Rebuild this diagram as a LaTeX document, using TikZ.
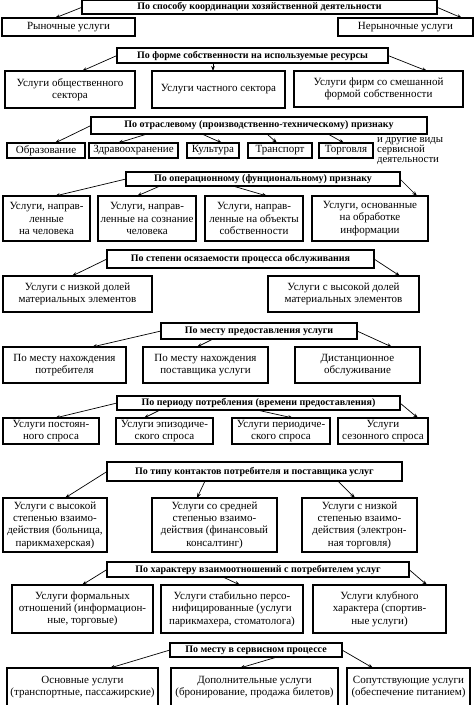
\documentclass[tikz,border=0pt]{standalone}
\usepackage{fontspec}
\setmainfont{Liberation Serif}
\usetikzlibrary{arrows.meta}
\tikzset{
  box/.style={draw, line width=1.1pt, align=center, inner sep=0pt, outer sep=0pt,
    font=\fontsize{11}{12.3}\selectfont},
  hdr/.style={box, font=\bfseries\fontsize{10}{11}\selectfont},
  note/.style={align=left, inner sep=0pt, font=\fontsize{10.8}{10}\selectfont},
  arr/.style={-{Stealth[length=5pt,width=3.6pt]}, line width=0.7pt}
}
\newcommand\placebox[7]{\node[#1, minimum width={(#5-#3)*1pt}, minimum height={(#6-#4)*1pt}, anchor=north west] (#2) at (#3,#4) {#7};}
\begin{document}
\begin{tikzpicture}[x=1pt,y=-1pt]
\useasboundingbox (0,0) rectangle (474,705);
\fill[white] (0,0) rectangle (474,705);
% Row 1
\placebox{hdr}{h1}{82}{0.5}{437}{14}{По способу координации хозяйственной деятельности}
\placebox{box}{r1a}{2}{18}{135}{36}{Рыночные услуги}
\placebox{box}{r1b}{338}{18}{473}{36}{Нерыночные услуги}
\draw[arr] (h1.west) -- (r1a.north -| 55,0);
\draw[arr] (h1.east) -- (r1b.north -| 462,0);
% Row 2
\placebox{hdr}{h2}{117}{48}{388}{63}{По форме собственности на используемые ресурсы}
\placebox{box}{b2a}{5}{71}{135}{108}{Услуги общественного\\сектора}
\placebox{box}{b2b}{152}{71}{285}{108}{Услуги частного сектора}
\placebox{box}{b2c}{294}{71}{463}{107}{Услуги фирм со смешанной\\формой собственности}
\draw[arr] (h2.west) -- (b2a.north -| 82,0);
\draw[arr] (h2.south -| 213,0) -- (b2b.north -| 213,0);
\draw[arr] (h2.east) -- (b2c.north -| 427,0);
% Row 3
\placebox{hdr}{h3}{91}{117}{427}{134}{По отраслевому (производственно-техническому) признаку}
\placebox{box}{b3a}{7}{143}{85}{158}{Образование}
\placebox{box}{b3b}{89}{143}{178}{158}{Здравоохранение}
\placebox{box}{b3c}{187}{143}{239}{158}{Культура}
\placebox{box}{b3d}{248}{143}{312}{158}{Транспорт}
\placebox{box}{b3e}{319}{143}{373}{158}{Торговля}
\node[note, anchor=north west] (oth) at (377,137) {и другие виды\\сервисной\\деятельности};
\draw[arr] (h3.west) -- (b3a.north -| 55,0);
\draw[arr] (h3.south -| 147,0) -- (b3b.north -| 118,0);
\draw[arr] (h3.south -| 202,0) -- (b3c.north -| 222,0);
\draw[arr] (h3.south -| 267,0) -- (b3d.north -| 277,0);
\draw[arr] (h3.south -| 328,0) -- (b3e.north -| 344,0);
% Row 4
\placebox{hdr}{h4}{126}{172}{400}{186}{По операционному (фунциональному) признаку}
\placebox{box}{b4a}{3}{196}{90}{241}{Услуги, направ-\\ленные\\на человека}
\placebox{box}{b4b}{98}{196}{196}{241}{Услуги, направ-\\ленные на сознание\\человека}
\placebox{box}{b4c}{205}{196}{303}{241}{Услуги, направ-\\ленные на объекты\\собственности}
\placebox{box}{b4d}{312}{196}{428}{241}{Услуги, основанные\\на обработке\\информации}
\draw[arr] (h4.west) -- (b4a.north -| 55,0);
\draw[arr] (h4.south -| 160,0) -- (b4b.north -| 137,0);
\draw[arr] (h4.south -| 233,0) -- (b4c.north -| 267,0);
\draw[arr] (h4.east) -- (b4d.north -| 417,0);
% Row 5
\placebox{hdr}{h5}{107}{250}{374}{268}{По степени осязаемости процесса обслуживания}
\placebox{box}{b5a}{3}{276}{152}{312}{Услуги с низкой долей\\материальных элементов}
\placebox{box}{b5b}{268}{276}{419}{312}{Услуги с высокой долей\\материальных элементов}
\draw[arr] (h5.west) -- (b5a.north -| 72,0);
\draw[arr] (h5.east) -- (b5b.north -| 400,0);
% Row 6
\placebox{hdr}{h6}{161}{323}{357}{339}{По месту предоставления услуги}
\placebox{box}{b6a}{3}{347}{126}{383}{По месту нахождения\\потребителя}
\placebox{box}{b6b}{143}{347}{268}{383}{По месту нахождения\\поставщика услуги}
\placebox{box}{b6c}{295}{347}{420}{383}{Дистанционное\\обслуживание}
\draw[arr] (h6.west) -- (b6a.north -| 92,0);
\draw[arr] (h6.south -| 213,0) -- (b6b.north -| 197,0);
\draw[arr] (h6.east) -- (b6c.north -| 392,0);
% Row 7
\placebox{hdr}{h7}{117}{396}{400}{410}{По периоду потребления (времени предоставления)}
\placebox{box}{b7a}{3}{418}{99}{444}{Услуги постоян-\\ного спроса}
\placebox{box}{b7b}{116}{418}{213}{444}{Услуги эпизодиче-\\ского спроса}
\placebox{box}{b7c}{232}{418}{330}{444}{Услуги периодиче-\\ского спроса}
\placebox{box}{b7d}{338}{418}{428}{444}{Услуги\\сезонного спроса}
\draw[arr] (h7.west) -- (b7a.north -| 55,0);
\draw[arr] (h7.south -| 160,0) -- (b7b.north -| 144,0);
\draw[arr] (h7.south -| 257,0) -- (b7c.north -| 293,0);
\draw[arr] (h7.east) -- (b7d.north -| 418,0);
% Row 8
\placebox{hdr}{h8}{107}{462}{402}{481}{По типу контактов потребителя и поставщика услуг}
\placebox{box}{b8a}{3}{498}{107}{552}{Услуги с высокой\\степенью взаимо-\\действия (больница,\\парикмахерская)}
\placebox{box}{b8b}{152}{498}{277}{552}{Услуги со средней\\степенью взаимо-\\действия (финансовый\\консалтинг)}
\placebox{box}{b8c}{302}{498}{417}{552}{Услуги с низкой\\степенью взаимо-\\действия (электрон-\\ная торговля)}
\draw[arr] (h8.west) -- (b8a.north -| 65,0);
\draw[arr] (h8.south -| 205,0) -- (b8b.north -| 197,0);
\draw[arr] (h8.south -| 338,0) -- (b8c.north -| 355,0);
% Row 9
\placebox{hdr}{h9}{107}{562}{409}{577}{По характеру взаимоотношений с потребителем услуг}
\placebox{box}{b9a}{12}{585}{153}{633}{Услуги формальных\\отношений (информацион-\\ные, торговые)}
\placebox{box}{b9b}{161}{585}{303}{633}{Услуги стабильно персо-\\нифицированные (услуги\\парикмахера, стоматолога)}
\placebox{box}{b9c}{313}{585}{446}{633}{Услуги клубного\\характера (спортив-\\ные услуги)}
\draw[arr] (h9.west) -- (b9a.north -| 82,0);
\draw[arr] (h9.south -| 223,0) -- (b9b.north -| 240,0);
\draw[arr] (h9.east) -- (b9c.north -| 427,0);
% Row 10
\placebox{hdr}{h10}{170}{643}{342}{657}{По месту в сервисном процессе}
\placebox{box}{b10a}{7}{668}{158}{706}{Основные услуги\\(транспортные, пассажирские)}
\placebox{box}{b10b}{171}{668}{338}{706}{Дополнительные услуги\\(бронирование, продажа билетов)}
\placebox{box}{b10c}{347}{668}{470}{706}{Сопутствующие услуги\\(обеспечение питанием)}
\draw[arr] (h10.west) -- (b10a.north -| 110,0);
\draw[arr] (h10.south -| 277,0) -- (b10b.north -| 240,0);
\draw[arr] (h10.east) -- (b10c.north -| 373,0);
\end{tikzpicture}
\end{document}
